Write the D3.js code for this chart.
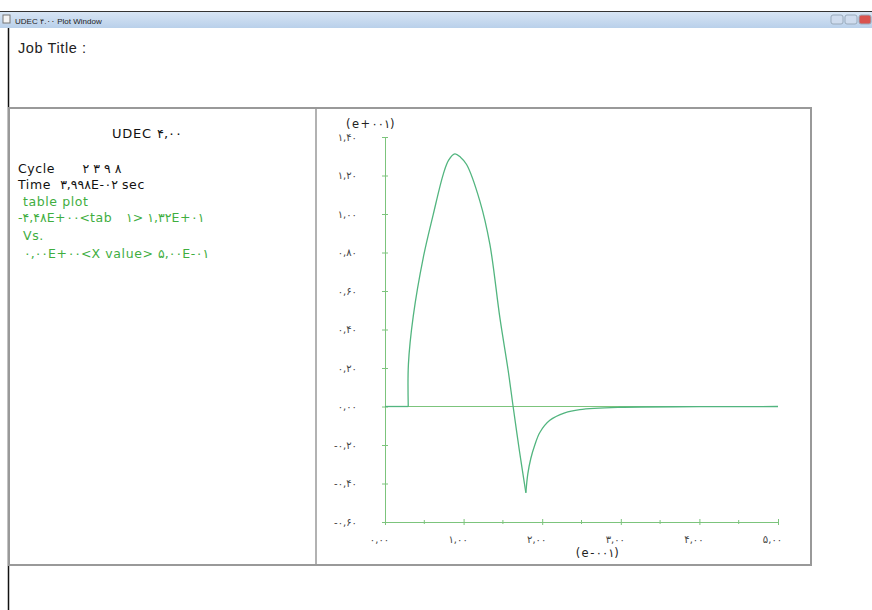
<!DOCTYPE html>
<html>
<head>
<meta charset="utf-8">
<script src="https://cdn.jsdelivr.net/npm/d3@7"></script>
<style>
  body { margin: 0; background: #fff; }
  svg { display: block; font-family: "Liberation Sans", Arial, "DejaVu Sans", sans-serif; }
  .info { white-space: pre; }
</style>
</head>
<body>
<svg id="plot" width="872" height="610"></svg>
<script>

// table 1 values (x in seconds, y in plot units, e+001 scale shown on axis)
const xValues = [0, 0.0296, 0.0298, 0.0360, 0.0487, 0.0614, 0.0741, 0.0810, 0.0889, 0.0960, 0.1038,
                 0.1207, 0.1334, 0.1461, 0.1567, 0.1630, 0.1710, 0.1792, 0.1817, 0.1855, 0.1906,
                 0.1970, 0.2097, 0.2287, 0.2478, 0.2986, 0.4000, 0.5000]
const yValues = [0, 0, 2.2, 4.71, 7.74, 9.98, 12.06, 12.8, 13.12, 12.95, 12.57,
                 10.67, 8.43, 4.63, 1.87, 0, -2.3, -4.48, -3.5, -2.7, -2.0,
                 -1.35, -0.72, -0.33, -0.16, -0.04, -0.01, 0]
// indices where the curve has a sharp corner
const cornerIdx = [1, 17]

const yTicks = [-6, -4, -2, 0, 2, 4, 6, 8, 10, 12, 14]
const xTicks = [0, 0.1, 0.2, 0.3, 0.4, 0.5]
const xMinorTicks = [0.05, 0.15, 0.25, 0.35, 0.45]

const infoLines = [
    {text: "Cycle      \u06f2 \u06f3 \u06f9 \u06f8", color: "#111", x: 18, y: 173},
    {text: "Time  \u06f3,\u06f9\u06f9\u06f8E-\u06f0\u06f2 sec", color: "#111", x: 18, y: 189},
    {text: "table plot", color: "#3fae3f", x: 23, y: 206},
    {text: "-\u06f4,\u06f4\u06f8E+\u06f0\u06f0<tab   \u06f1> \u06f1,\u06f3\u06f2E+\u06f0\u06f1", color: "#3fae3f", x: 18, y: 222},
    {text: "Vs.", color: "#3fae3f", x: 23, y: 240},
    {text: " \u06f0,\u06f0\u06f0E+\u06f0\u06f0<X value> \u06f5,\u06f0\u06f0E-\u06f0\u06f1", color: "#3fae3f", x: 20, y: 258}
]

// western digits -> persian digits
const fa = (s) => s.replace(/[0-9]/g, d => String.fromCharCode(0x06F0 + (+d))).replace(".", ",")

const svg = d3.select("#plot")

// window title bar
const grad = svg.append("defs").append("linearGradient")
    .attr("id", "tb").attr("x1", 0).attr("x2", 0).attr("y1", 0).attr("y2", 1)
grad.append("stop").attr("offset", "0%").attr("stop-color", "#d9e6f5")
grad.append("stop").attr("offset", "100%").attr("stop-color", "#b9d0ea")

svg.append("rect").attr("x", 0).attr("y", 11).attr("width", 872).attr("height", 17).attr("fill", "url(#tb)")
svg.append("line").attr("x1", 0).attr("x2", 872).attr("y1", 11.5).attr("y2", 11.5).attr("stroke", "#333")
svg.append("rect").attr("x", 3).attr("y", 15).attr("width", 7).attr("height", 8).attr("fill", "#f4f4f4").attr("stroke", "#777")
svg.append("text").attr("x", 15).attr("y", 24).attr("font-size", 8).attr("fill", "#222")
    .text("UDEC \u06f4.\u06f0\u06f0 Plot Window")
// window buttons
const btnColors = ["#cfdcee", "#cfdcee", "#d9534f"]
btnColors.forEach((c, i) => {
    svg.append("rect").attr("x", 831 + i * 14).attr("y", 15).attr("width", 12).attr("height", 9)
        .attr("rx", 2).attr("fill", c).attr("stroke", "#9ab")
})

svg.append("text").attr("x", 18).attr("y", 53).attr("font-size", 14.5).attr("letter-spacing", 0.6)
    .attr("fill", "#222").text("Job Title :")

// frame
svg.append("line").attr("x1", 8.5).attr("x2", 8.5).attr("y1", 28).attr("y2", 610).attr("stroke", "#111").attr("stroke-width", 1.5)
svg.append("rect").attr("x", 9).attr("y", 108).attr("width", 802).attr("height", 457)
    .attr("fill", "none").attr("stroke", "#999").attr("stroke-width", 2)
svg.append("line").attr("x1", 316).attr("x2", 316).attr("y1", 108).attr("y2", 565).attr("stroke", "#999").attr("stroke-width", 1.5)

// info panel
svg.append("text").attr("x", 147).attr("y", 138).attr("text-anchor", "middle").attr("font-size", 13)
    .attr("font-family", "DejaVu Sans").attr("fill", "#111").attr("letter-spacing", 0.8)
    .text("UDEC \u06f4,\u06f0\u06f0")
svg.selectAll("text.info").data(infoLines).enter().append("text")
    .attr("class", "info")
    .attr("x", d => d.x).attr("y", d => d.y)
    .attr("font-size", 12.5)
    .attr("font-family", "DejaVu Sans")
    .attr("letter-spacing", 0.6)
    .attr("fill", d => d.color)
    .text(d => d.text)

// plot
const x = d3.scaleLinear().domain([0, 0.5]).range([385, 778])
const y = d3.scaleLinear().domain([-6, 14]).range([522, 137])
const axisColor = "#7cc47c"

const yAxis = svg.append("g")
    .attr("transform", "translate(" + x(0) + ",0)")
    .call(d3.axisLeft(y).tickValues(yTicks).tickSize(3).tickPadding(25)
        .tickFormat(d => fa((d / 10).toFixed(2))))
yAxis.select(".domain").attr("stroke", axisColor)
yAxis.selectAll(".tick line").attr("stroke", axisColor).attr("x1", 3).attr("x2", -3)
yAxis.selectAll(".tick text").attr("fill", "#444").attr("font-size", 10).attr("letter-spacing", 3)
    .attr("font-family", "DejaVu Sans")

const xAxis = svg.append("g")
    .attr("transform", "translate(0," + y(-6) + ")")
    .call(d3.axisBottom(x).tickValues(xTicks).tickSize(3).tickPadding(11)
        .tickFormat(d => fa((d * 10).toFixed(2))))
xAxis.select(".domain").attr("stroke", axisColor)
xAxis.selectAll(".tick line").attr("stroke", axisColor).attr("y1", -3).attr("y2", 3)
xAxis.selectAll(".tick text").attr("fill", "#444").attr("font-size", 10).attr("letter-spacing", 3)
    .attr("font-family", "DejaVu Sans").attr("dx", -6)

svg.append("g").selectAll("line").data(xMinorTicks).enter().append("line")
    .attr("x1", d => x(d)).attr("x2", d => x(d))
    .attr("y1", y(-6) - 2).attr("y2", y(-6) + 2)
    .attr("stroke", axisColor)

svg.append("text").attr("x", 371).attr("y", 128).attr("text-anchor", "middle").attr("font-size", 11.5).attr("fill", "#222")
    .attr("letter-spacing", 1.5).attr("font-family", "DejaVu Sans").text("(e+\u06f0\u06f0\u06f1)")
svg.append("text").attr("x", 598).attr("y", 557).attr("text-anchor", "middle").attr("font-size", 11.5).attr("fill", "#222")
    .attr("letter-spacing", 1.5).attr("font-family", "DejaVu Sans").text("(e-\u06f0\u06f0\u06f1)")

// zero line
svg.append("line").attr("x1", x(0)).attr("x2", x(0.5)).attr("y1", y(0)).attr("y2", y(0))
    .attr("stroke", axisColor).attr("stroke-width", 1.2)

// the curve, smoothed between corners
const pts = xValues.map((v, i) => [v, yValues[i]])
const bounds = [0, ...cornerIdx, pts.length - 1]
const pieces = d3.pairs(bounds).map(([a, b]) => pts.slice(a, b + 1))
const curveLine = d3.line().x(d => x(d[0])).y(d => y(d[1])).curve(d3.curveCatmullRom.alpha(0.5))
svg.append("g").selectAll("path")
    .data(pieces)
    .enter().append("path")
    .attr("fill", "none")
    .attr("stroke", "#52b57f")
    .attr("stroke-width", 1.3)
    .attr("d", curveLine)

</script>
</body>
</html>
